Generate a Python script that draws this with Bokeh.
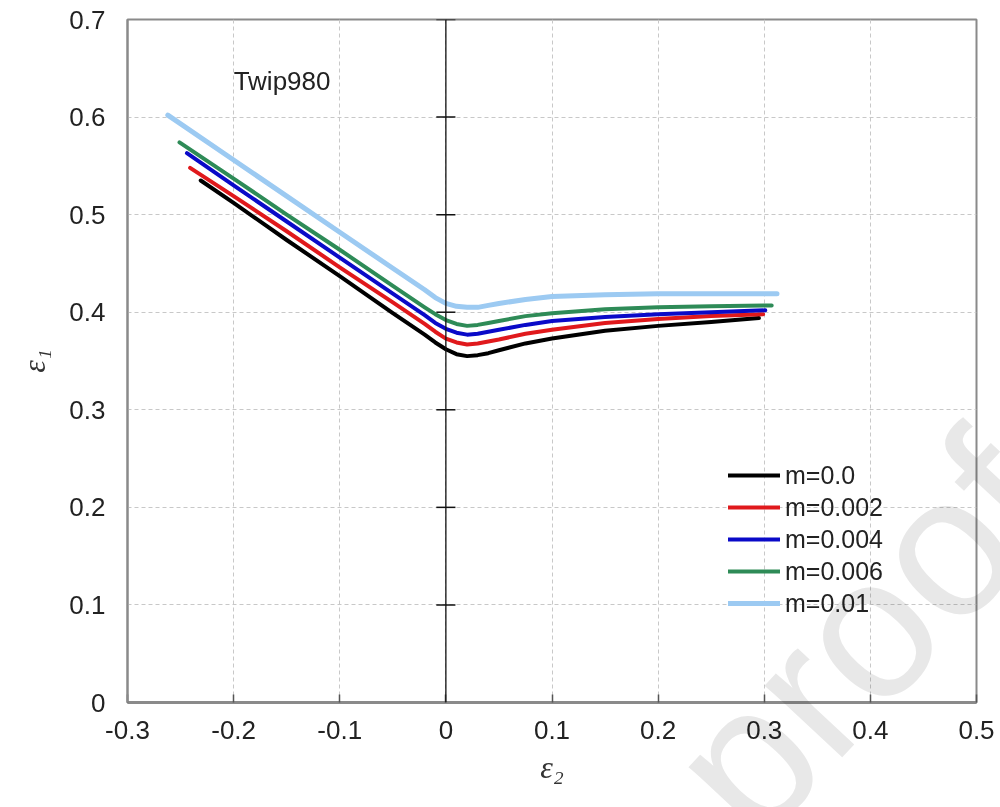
from bokeh.plotting import figure
from bokeh.models import (FixedTicker, Span, Label, Legend, LegendItem, Div)
from bokeh.layouts import column
from bokeh.embed import file_html
from bokeh.resources import INLINE

# ---- data ----
x_m0 = [-0.231, -0.2, -0.15, -0.1, -0.05, -0.02, -0.01, 0.0, 0.01, 0.02, 0.03, 0.04, 0.05, 0.075, 0.1, 0.15, 0.2, 0.25, 0.295]
y_m0 = [0.535, 0.512, 0.474, 0.437, 0.399, 0.377, 0.369, 0.362, 0.357, 0.355, 0.356, 0.358, 0.361, 0.368, 0.373, 0.381, 0.386, 0.390, 0.394]

x_m002 = [-0.241, -0.2, -0.15, -0.1, -0.05, -0.02, -0.01, 0.0, 0.01, 0.02, 0.03, 0.04, 0.05, 0.075, 0.1, 0.15, 0.2, 0.25, 0.299]
y_m002 = [0.548, 0.519, 0.483, 0.446, 0.410, 0.388, 0.380, 0.373, 0.369, 0.367, 0.368, 0.370, 0.372, 0.378, 0.382, 0.389, 0.393, 0.396, 0.398]

x_m004 = [-0.244, -0.2, -0.15, -0.1, -0.05, -0.02, -0.01, 0.0, 0.01, 0.02, 0.03, 0.04, 0.05, 0.075, 0.1, 0.15, 0.2, 0.25, 0.301]
y_m004 = [0.563, 0.530, 0.493, 0.456, 0.419, 0.397, 0.389, 0.383, 0.379, 0.377, 0.378, 0.380, 0.382, 0.387, 0.391, 0.395, 0.398, 0.400, 0.402]

x_m006 = [-0.251, -0.2, -0.15, -0.1, -0.05, -0.02, -0.01, 0.0, 0.01, 0.02, 0.03, 0.04, 0.05, 0.075, 0.1, 0.15, 0.2, 0.25, 0.307]
y_m006 = [0.574, 0.537, 0.500, 0.464, 0.427, 0.405, 0.398, 0.392, 0.388, 0.386, 0.387, 0.389, 0.391, 0.396, 0.399, 0.403, 0.405, 0.406, 0.407]

x_m01 = [-0.262, -0.2, -0.15, -0.1, -0.05, -0.02, -0.01, 0.0, 0.01, 0.02, 0.03, 0.04, 0.05, 0.075, 0.1, 0.15, 0.2, 0.25, 0.312]
y_m01 = [0.602, 0.556, 0.519, 0.482, 0.445, 0.423, 0.415, 0.409, 0.406, 0.405, 0.405, 0.407, 0.409, 0.413, 0.416, 0.418, 0.419, 0.419, 0.419]

series_labels = ["m=0.0", "m=0.002", "m=0.004", "m=0.006", "m=0.01"]
series_colors = ["#000000", "#e0191c", "#0a0ac8", "#2e8b57", "#9ccaf2"]
series_widths = [4, 4, 4, 4, 5]

x_ticks = [-0.3, -0.2, -0.1, 0.0, 0.1, 0.2, 0.3, 0.4, 0.5]
x_tick_labels = ["-0.3", "-0.2", "-0.1", "0", "0.1", "0.2", "0.3", "0.4", "0.5"]
y_ticks = [0.0, 0.1, 0.2, 0.3, 0.4, 0.5, 0.6, 0.7]
y_tick_labels = ["0", "0.1", "0.2", "0.3", "0.4", "0.5", "0.6", "0.7"]

FONT = "Liberation Sans"

p = figure(width=1000, height=807, x_range=(-0.3, 0.5), y_range=(0.0, 0.7),
           output_backend="svg", toolbar_location=None,
           min_border_left=127, min_border_right=24, min_border_top=19,
           min_border_bottom=105)
p.background_fill_color = "white"
p.border_fill_color = "white"
p.outline_line_color = "#8a8a8a"
p.outline_line_width = 2

# grid
for g in (p.xgrid, p.ygrid):
    g.grid_line_color = "#c8c8c8"
    g.grid_line_dash = "4 3"
    g.grid_line_width = 1
p.xgrid.ticker = FixedTicker(ticks=x_ticks)
p.ygrid.ticker = FixedTicker(ticks=y_ticks)

# axes
p.xaxis.ticker = FixedTicker(ticks=x_ticks)
p.yaxis.ticker = FixedTicker(ticks=y_ticks)
p.xaxis.major_label_overrides = {t: l for t, l in zip(x_ticks, x_tick_labels)}
p.yaxis.major_label_overrides = {t: l for t, l in zip(y_ticks, y_tick_labels)}
for ax in (p.xaxis, p.yaxis):
    ax.major_label_text_font = FONT
    ax.major_label_text_font_size = "26px"
    ax.major_label_text_color = "#222222"
    ax.minor_tick_line_color = None
    ax.axis_label_text_font = "Liberation Serif"
    ax.axis_label_text_font_style = "italic"
    ax.axis_label_text_font_size = "32px"
    ax.axis_label_text_color = "#333333"

p.xaxis.axis_line_color = "#8a8a8a"
p.xaxis.axis_line_width = 3
p.xaxis.major_tick_in = 8
p.xaxis.major_tick_out = 0
p.xaxis.major_tick_line_color = "#555555"
p.xaxis.major_tick_line_width = 1.5
p.xaxis.major_label_standoff = 18
p.xaxis.axis_label = "ε₂"
p.xaxis.axis_label_standoff = 7

p.yaxis.axis_line_color = "#8a8a8a"
p.yaxis.axis_line_width = 2
p.yaxis.major_tick_in = 0
p.yaxis.major_tick_out = 0
p.yaxis.major_label_standoff = 22
p.yaxis.axis_label = "ε₁"
p.yaxis.axis_label_standoff = 14

# vertical axis through x = 0 with crossing ticks
p.add_layout(Span(location=0, dimension="height", line_color="#111111", line_width=1.3))
tick_half = 0.009
p.segment(x0=[-tick_half] * len(y_ticks), x1=[tick_half] * len(y_ticks),
          y0=y_ticks, y1=y_ticks, line_color="#111111", line_width=1.5)

# curves
xs = [x_m0, x_m002, x_m004, x_m006, x_m01]
ys = [y_m0, y_m002, y_m004, y_m006, y_m01]
items = []
for xv, yv, lab, col, w in zip(xs, ys, series_labels, series_colors, series_widths):
    r = p.line(xv, yv, line_color=col, line_width=w, line_join="round", line_cap="round")
    items.append(LegendItem(label=lab, renderers=[r]))

legend = Legend(items=items, location=(601, 83), orientation="vertical",
                glyph_width=52, glyph_height=32, label_height=32, spacing=0,
                padding=0, margin=0, label_standoff=5,
                label_text_font=FONT, label_text_font_size="25px",
                label_text_color="#222222",
                border_line_alpha=0, background_fill_alpha=0)
p.add_layout(legend)

p.add_layout(Label(x=-0.2, y=0.637, text="Twip980", text_font=FONT,
                   text_font_size="26px", text_color="#222222",
                   text_baseline="alphabetic", text_align="left"))

# faint "proof" watermark, clipped at the window edge like the reference
wm = Div(text='<div style="position:absolute; left:-23px; top:110px; width:560px; '
              'height:240px; line-height:240px; text-align:center; '
              'font-family:\'Liberation Sans\'; font-size:200px; color:#e8e8e8; '
              'transform:rotate(-47deg); white-space:nowrap;">proof</div>',
         width=400, height=407,
         styles={"position": "absolute", "left": "600px", "top": "400px",
                 "overflow": "hidden", "pointer-events": "none",
                 "mix-blend-mode": "multiply"})

layout = column(p, wm)
open("out.html", "w").write(file_html(layout, INLINE))
